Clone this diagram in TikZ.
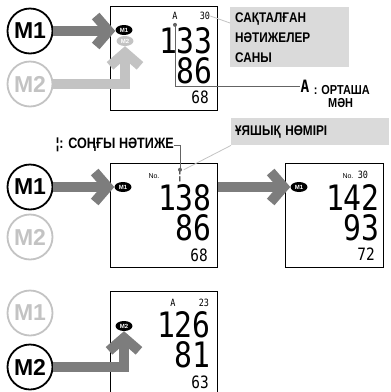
\documentclass[tikz,border=0pt]{standalone}
\usepackage{fontspec}
\setmainfont{Liberation Sans}
\newfontfamily\narrowfont{Liberation Sans Bold}[FakeStretch=0.84]
\newfontfamily\lcdfont{DejaVu Sans Mono}[FakeStretch=0.85]
\usetikzlibrary{arrows.meta,positioning,shapes.geometric}
\definecolor{MemDark}{RGB}{125,125,125}
\definecolor{MemLight}{RGB}{195,195,195}
\definecolor{MemNote}{RGB}{218,218,218}
\definecolor{MemLine}{RGB}{100,100,100}

\begin{document}
\begin{tikzpicture}[x=1pt,y=-1pt,
  membtn/.style={circle,draw=black,line width=1.8pt,minimum size=45pt,inner sep=0pt,
                 font=\bfseries\fontsize{23}{23}\selectfont},
  membtnoff/.style={membtn,draw=MemLight,text=MemLight},
  lcd/.style={draw=black,line width=1.2pt,anchor=north west,minimum width=107pt,
              minimum height=104pt,inner sep=0pt},
  badge/.style={ellipse,fill=black,text=white,minimum width=17pt,minimum height=10pt,
                inner sep=0pt,font=\bfseries\fontsize{6}{6}\selectfont},
  badgeoff/.style={badge,fill=MemLight},
  bigdig/.style={anchor=east,inner sep=0pt,font=\lcdfont\fontsize{35}{35}\selectfont},
  smalldig/.style={anchor=east,inner sep=0pt,font=\lcdfont\fontsize{17}{17}\selectfont},
  tinydig/.style={inner sep=0pt,font=\lcdfont\fontsize{10}{10}\selectfont},
  nolbl/.style={inner sep=0pt,font=\fontsize{7}{7}\selectfont},
  note/.style={fill=MemNote,anchor=north west,align=left,inner sep=5pt,
               font=\narrowfont\fontsize{14}{20}\selectfont},
  lbl/.style={inner sep=0pt,font=\narrowfont\fontsize{15}{15}\selectfont},
  memarrow/.style={-{Straight Barb[length=13pt,width=30pt]},draw=MemDark,line width=10pt},
  memarrowoff/.style={memarrow,draw=MemLight},
  leadlight/.style={draw=MemLight,line width=0.8pt},
  leaddark/.style={draw=MemLine,line width=1pt}
]
\useasboundingbox (0,0) rectangle (391,392);

% top: stored results of M1 / M2
\node[membtn] (m1a) at (30,31) {M1};
\node[membtnoff] (m2a) at (30,84) {M2};
\node[lcd] (d1) at (110,6) {};
\node[badge] (b1a) at (124,30) {M1};
\node[badgeoff] (b2a) at (125,41) {M2};
\node[tinydig] (avg1) at (175,16) {A};
\node[tinydig] (cnt1) at (205,16) {30};
\node[bigdig] at (213,41) {133};
\node[bigdig] at (213,71) {86};
\node[smalldig] at (209,97) {68};
\draw[memarrow] (m1a.east) -- (m1a.east -| b1a.west);
\draw[memarrowoff] (m2a.east) -| (b2a.south);

\node[note,text width=109pt,minimum height=60pt] (note1) at (230,7)
  {САҚТАЛҒАН\\НӘТИЖЕЛЕР\\САНЫ};
\draw[leadlight] (cnt1.east) -- ([yshift=-16pt]note1.north west);

\node[lbl,font=\lcdfont\bfseries\fontsize{17}{17}\selectfont] (avgsym) at (305,86) {A};
\node[lbl,anchor=west,font=\narrowfont\fontsize{13}{13}\selectfont] (avgtxt)
  at ([xshift=4pt,yshift=-4pt]avgsym.east) {: ОРТАША};
\node[lbl,anchor=north west,font=\narrowfont\fontsize{13}{13}\selectfont] (avgtxt2)
  at (328,98) {МӘН};
\fill[MemLine] ([yshift=-5pt]avg1.south) circle (2pt);
\draw[leaddark] ([yshift=-5pt]avg1.south) |- (avgsym.west);

% middle: last result, then older ones
\node[lbl,anchor=east] (lastlbl) at (174,145) {¦: СОҢҒЫ НӘТИЖЕ};
\node[note,text width=150pt,minimum height=27pt,inner sep=4pt] (note2) at (231,118)
  {ҰЯШЫҚ НӨМІРІ};

\node[membtn] (m1b) at (30,187) {M1};
\node[membtnoff] (m2b) at (30,237) {M2};
\node[lcd] (d2) at (110,163) {};
\node[badge] (b1b) at (123,187) {M1};
\node[nolbl] (no2) at (154,176) {No.};
\node[tinydig,font=\lcdfont\fontsize{14}{14}\selectfont] (num2) at (180,176) {¦};
\node[bigdig] at (212,198) {138};
\node[bigdig] at (212,228) {86};
\node[smalldig] at (208,255) {68};
\draw[memarrow] (m1b.east) -- (m1b.east -| b1b.west);
\draw[leaddark] (lastlbl.east) -| (num2.north);
\fill[MemLine] (num2.north) circle (2pt);
\draw[leadlight] (note2.south west) -- (num2.north east);

\node[lcd,minimum width=98pt] (d3) at (285,163) {};
\node[badge] (b1c) at (299,187) {M1};
\node[nolbl] (no3) at (348,176) {No.};
\node[tinydig] (num3) at (363,175) {30};
\node[bigdig] at (380,198) {142};
\node[bigdig] at (380,228) {93};
\node[smalldig] at (375,254) {72};
\draw[memarrow] (d2.east |- b1b) -- (b1c.west);

% bottom: M2 memory
\node[membtnoff] (m1c) at (30,313) {M1};
\node[membtn] (m2c) at (30,367) {M2};
\node[lcd] (d4) at (110,291) {};
\node[badge] (b2c) at (124,326) {M2};
\node[tinydig] (avg4) at (173,303) {A};
\node[tinydig] (cnt4) at (204,303) {23};
\node[bigdig] at (211,325) {126};
\node[bigdig] at (211,355) {81};
\node[smalldig] at (209,382) {63};
\draw[memarrow] (m2c.east) -| (b2c.south);
\end{tikzpicture}
\end{document}
